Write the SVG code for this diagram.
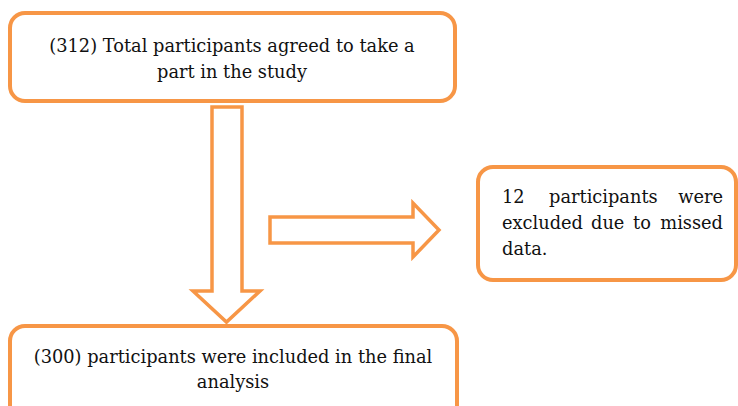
<svg xmlns="http://www.w3.org/2000/svg" width="738" height="406" viewBox="0 0 738 406">
<style>
.box{fill:#fff;stroke:#F79646;stroke-width:4}
.arr{fill:#fff;stroke:#F79646;stroke-width:3.5;stroke-linejoin:miter}
.t{font-family:'DejaVu Serif','Liberation Serif',serif;font-size:17.8px;fill:#111}
.c{text-anchor:middle}
.e{text-anchor:end}
</style>
<rect width="738" height="406" fill="#fff"/>
<g id="connectors">
<path class="arr" d="M212,107 H242 V291 H260 L226.5,322 L193,291 H212 Z"/>
<path class="arr" d="M270,217 H413 V203 L439,230 L413,257 V243 H270 Z"/>
</g>
<g id="node-total">
<rect class="box" x="10" y="13" width="445" height="88" rx="15"/>
<text class="t c" x="232" y="52">(312) Total participants agreed to take a</text>
<text class="t c" x="232" y="78">part in the study</text>
</g>
<g id="node-excluded">
<rect class="box" x="478" y="167" width="258" height="113" rx="15"/>
<text class="t" x="502" y="203">12</text>
<text class="t" x="549" y="203">participants</text>
<text class="t e" x="723" y="203">were</text>
<text class="t" x="502" y="229">excluded</text>
<text class="t" x="591" y="229">due</text>
<text class="t" x="633" y="229">to</text>
<text class="t e" x="723" y="229">missed</text>
<text class="t" x="502" y="255">data.</text>
</g>
<g id="node-included">
<rect class="box" x="10" y="326" width="447" height="95" rx="15"/>
<text class="t c" x="233" y="363">(300) participants were included in the final</text>
<text class="t c" x="233" y="388">analysis</text>
</g>
</svg>
